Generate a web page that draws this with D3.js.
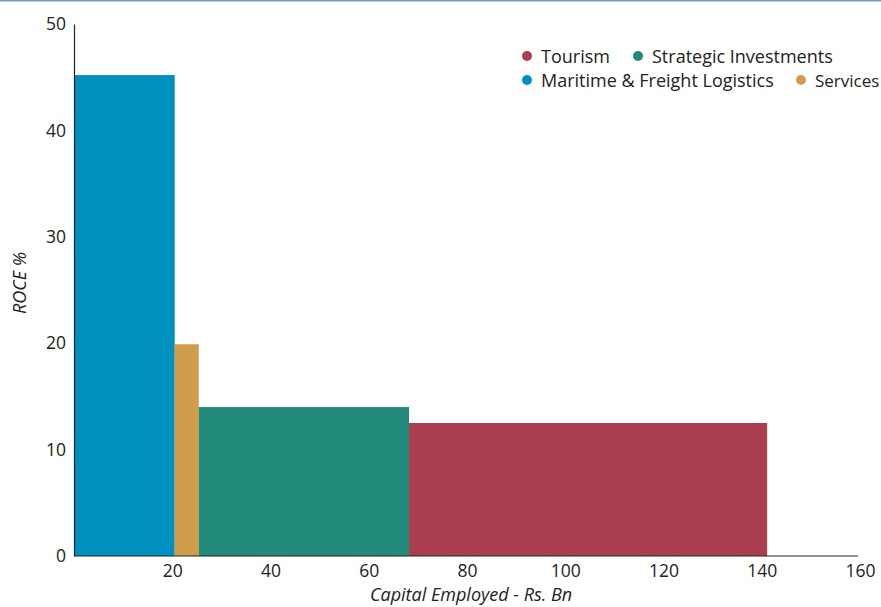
<!DOCTYPE html>
<html><head><meta charset="utf-8">
<script src="https://cdn.jsdelivr.net/npm/d3@7"></script>
<style>body{margin:0;background:#fff}svg{display:block}text{font-family:"Open Sans","Noto Sans",sans-serif;fill:#222}</style>
</head><body><svg id="c" width="881" height="607"></svg>
<script>
const segments = ["Maritime & Freight Logistics","Services","Strategic Investments","Tourism"];
const capitalEmployed = [20.5, 4.9, 42.8, 72.9];
const roce = [45.2, 19.9, 14.0, 12.5];
const colors = ["#0090c0","#d29d4a","#228a7b","#a83e4e"];
const legendOrder = ["Tourism","Strategic Investments","Maritime & Freight Logistics","Services"];
const xTicks = [20,40,60,80,100,120,140,160];
const yTicks = [0,10,20,30,40,50];

const svg = d3.select("#c");
svg.append("line").attr("x1",0).attr("x2",881).attr("y1",0.5).attr("y2",0.5).attr("stroke","#6d9ec6").attr("stroke-width",2);

const x = d3.scaleLinear().domain([0,160]).range([74,860]);
const y = d3.scaleLinear().domain([0,50]).range([556,24]);

let cum = 0;
const bars = segments.map((s,i)=>{const b={s,x0:cum,x1:cum+capitalEmployed[i],v:roce[i],c:colors[i]};cum+=capitalEmployed[i];return b;});
svg.selectAll("rect.bar").data(bars).enter().append("rect")
  .attr("x",d=>x(d.x0)).attr("width",d=>x(d.x1)-x(d.x0))
  .attr("y",d=>y(d.v)).attr("height",d=>y(0)-y(d.v)).attr("fill",d=>d.c);

const ff = '"Open Sans","Noto Sans",sans-serif';
const xa = svg.append("g").attr("transform","translate(0,556)")
  .call(d3.axisBottom(x).tickValues(xTicks).tickSize(0).tickPadding(9));
xa.select(".domain").attr("stroke","#222").attr("stroke-width",1.2).attr("d","M74,0H858");
xa.selectAll("text").attr("font-size",17.5).attr("fill","#222").style("font-family",ff);

const ya = svg.append("g").attr("transform","translate(74,0)")
  .call(d3.axisLeft(y).tickValues(yTicks).tickSize(0).tickPadding(8));
ya.select(".domain").attr("stroke","#222").attr("stroke-width",1.2);
ya.selectAll("text").attr("font-size",17.5).attr("fill","#222").style("font-family",ff);

svg.append("text").attr("transform","translate(26,283) rotate(-90)").attr("text-anchor","middle")
  .attr("font-size",18).attr("font-style","italic").text("ROCE %");
svg.append("text").attr("x",471).attr("y",601).attr("text-anchor","middle")
  .attr("font-size",18).attr("font-style","italic").text("Capital Employed - Rs. Bn");

const legPos = [[527,56],[638,56],[527,80],[801,80]];
legendOrder.forEach((name,i)=>{
  const c = colors[segments.indexOf(name)];
  const g = svg.append("g").attr("transform",`translate(${legPos[i][0]},${legPos[i][1]})`);
  g.append("circle").attr("r",5).attr("fill",c);
  g.append("text").attr("x",14).attr("y",6.5).attr("font-size",name==="Services"?17:18).text(name);
});
</script></body></html>
